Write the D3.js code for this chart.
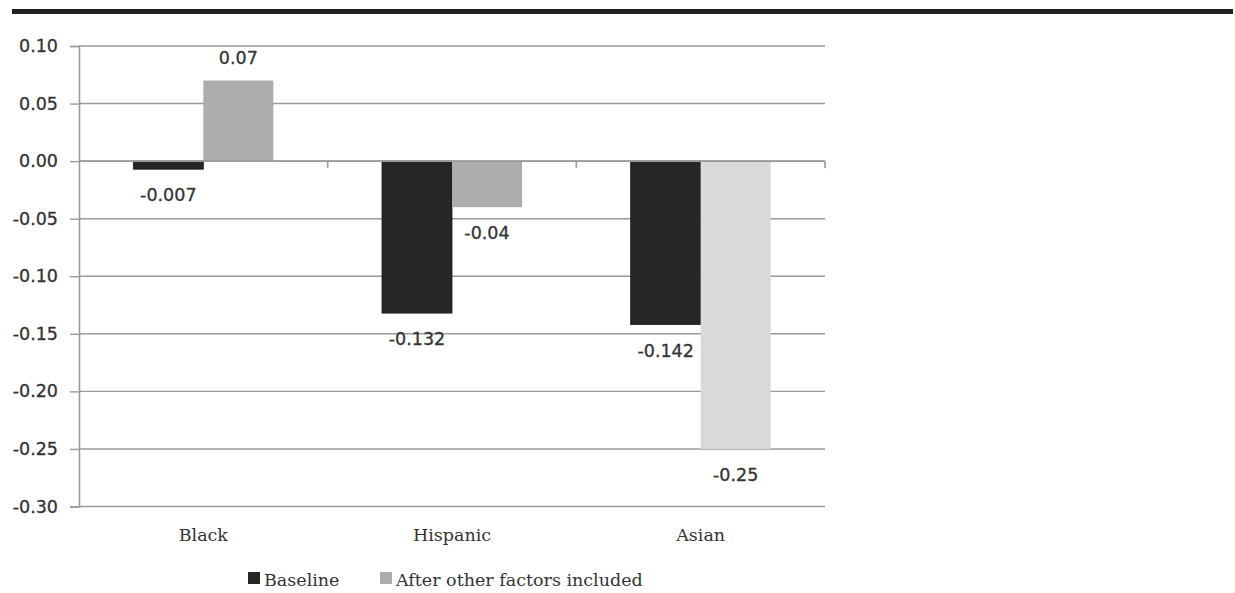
<!DOCTYPE html>
<html>
<head>
<meta charset="utf-8">
<script src="https://cdn.jsdelivr.net/npm/d3@7"></script>
<style>
  html, body { margin: 0; padding: 0; background: #fff; }
  svg { display: block; }
</style>
</head>
<body>
<svg id="chart" width="1235" height="593"></svg>
<script>
// Categories, series and their values
const categories = ["Black", "Hispanic", "Asian"];
const seriesNames = ["Baseline", "After other factors included"];
const baselineValues = [-0.007, -0.132, -0.142];
const afterValues = [0.07, -0.04, -0.25];
const valueLabels = [["-0.007", "-0.132", "-0.142"], ["0.07", "-0.04", "-0.25"]];
const yTicks = [0.10, 0.05, 0.00, -0.05, -0.10, -0.15, -0.20, -0.25, -0.30];

// Fill colours: baseline, after (per category), legend swatch for "after"
const baselineColor = "#262626";
const afterColors = ["#adadad", "#adadad", "#d9d9d9"];
const afterLegendColor = "#adadad";

const svg = d3.select("#chart");
const plot = { left: 79, right: 825, top: 46, bottom: 506.5 };
const sansFont = "'DejaVu Sans', Verdana, sans-serif";
const serifFont = "'DejaVu Serif', serif";
const textColor = "#333";

// Heavy rule across the top
svg.append("rect")
  .attr("x", 12).attr("y", 9).attr("width", 1221).attr("height", 5)
  .attr("fill", "#231f20");

const y = d3.scaleLinear().domain([-0.30, 0.10]).range([plot.bottom, plot.top]);
const x0 = d3.scaleBand().domain(categories).range([plot.left, plot.right]).padding(0);
const x1 = d3.scaleBand().domain([0, 1]).range([0, x0.bandwidth()])
  .paddingInner(0).paddingOuter(0.776);

const gridColor = "#9a9a9a";

// Horizontal gridlines
svg.append("g").selectAll("line").data(yTicks).join("line")
  .attr("x1", plot.left).attr("x2", plot.right)
  .attr("y1", d => y(d)).attr("y2", d => y(d))
  .attr("stroke", gridColor).attr("stroke-width", 1.4);

// Y axis
const yAxis = d3.axisLeft(y).tickValues(yTicks).tickSize(9).tickPadding(12)
  .tickFormat(d => d3.format(".2f")(d).replace("−", "-"));
const gy = svg.append("g").attr("transform", `translate(${plot.left},0)`).call(yAxis);
gy.select(".domain").attr("stroke", gridColor).attr("stroke-width", 1.6);
gy.selectAll(".tick line").attr("stroke", gridColor).attr("stroke-width", 1.4);
gy.selectAll(".tick text")
  .attr("fill", textColor)
  .attr("stroke", textColor).attr("stroke-width", 0.3)
  .style("font-family", sansFont)
  .style("font-size", "17.5px");

// Bars
const data = categories.map((c, i) => ({ cat: c, i, vals: [baselineValues[i], afterValues[i]] }));
const groups = svg.append("g").selectAll("g").data(data).join("g")
  .attr("transform", d => `translate(${x0(d.cat)},0)`);

groups.selectAll("rect").data(d => d.vals.map((v, s) => ({ v, s, i: d.i }))).join("rect")
  .attr("x", d => x1(d.s))
  .attr("width", x1.bandwidth())
  .attr("y", d => y(Math.max(0, d.v)))
  .attr("height", d => Math.abs(y(d.v) - y(0)))
  .attr("fill", d => d.s === 0 ? baselineColor : afterColors[d.i])
  .attr("stroke", d => d.s === 0 ? "#1a1a1a" : "none")
  .attr("stroke-width", 0.8);

// X axis at zero with tick marks at category boundaries
const xAxisG = svg.append("g");
xAxisG.append("line")
  .attr("x1", plot.left).attr("x2", plot.right)
  .attr("y1", y(0)).attr("y2", y(0))
  .attr("stroke", gridColor).attr("stroke-width", 1.6);
xAxisG.selectAll("line.tk").data(categories).join("line")
  .attr("class", "tk")
  .attr("x1", d => x0(d) + x0.bandwidth()).attr("x2", d => x0(d) + x0.bandwidth())
  .attr("y1", y(0)).attr("y2", y(0) + 7)
  .attr("stroke", gridColor).attr("stroke-width", 1.6);

// Value labels
groups.selectAll("text").data(d => d.vals.map((v, s) => ({ v, s, i: d.i }))).join("text")
  .attr("x", d => x1(d.s) + x1.bandwidth() / 2)
  .attr("y", d => d.v >= 0 ? y(d.v) - 17 : y(d.v) + 32)
  .attr("text-anchor", "middle")
  .attr("fill", textColor)
  .attr("stroke", textColor).attr("stroke-width", 0.3)
  .style("font-family", sansFont)
  .style("font-size", "17.5px")
  .text(d => valueLabels[d.s][d.i]);

// Category labels
svg.append("g").selectAll("text").data(categories).join("text")
  .attr("x", d => x0(d) + x0.bandwidth() / 2)
  .attr("y", 541)
  .attr("text-anchor", "middle")
  .attr("fill", textColor)
  .style("font-family", serifFont)
  .style("font-size", "17.5px")
  .text(d => d);

// Legend
const legend = svg.append("g");
const legendItems = [
  { name: seriesNames[0], color: baselineColor, x: 248 },
  { name: seriesNames[1], color: afterLegendColor, x: 380 }
];
const li = legend.selectAll("g").data(legendItems).join("g")
  .attr("transform", d => `translate(${d.x},0)`);
li.append("rect").attr("x", 0).attr("y", 572).attr("width", 12).attr("height", 12)
  .attr("fill", d => d.color);
li.append("text").attr("x", 16).attr("y", 586)
  .attr("fill", textColor)
  .style("font-family", serifFont)
  .style("font-size", "17.5px")
  .text(d => d.name);
</script>
</body>
</html>
